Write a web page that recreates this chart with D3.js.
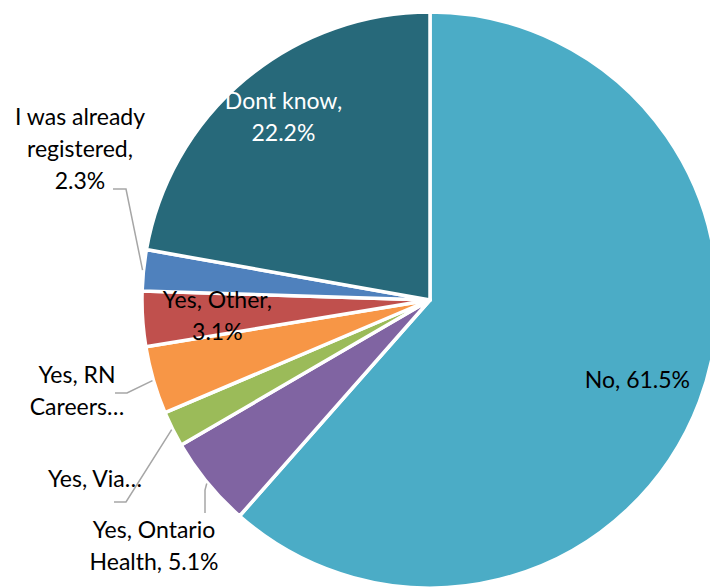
<!DOCTYPE html>
<html>
<head>
<meta charset="utf-8">
<script src="https://cdn.jsdelivr.net/npm/d3@7/dist/d3.min.js"></script>
<style>
  html, body { margin: 0; padding: 0; background: #fff; }
  svg { display: block; }
  text { font-family: Lato, "Open Sans", sans-serif; font-size: 23px; }
</style>
</head>
<body>
<svg id="chart" width="710" height="588"></svg>
<script>
// Survey answers, clockwise from 12 o'clock
const categories = ["No", "Yes, Ontario Health", "Yes, Via…", "Yes, RN Careers…",
                    "Yes, Other", "I was already registered", "Dont know"];
const values = [61.5, 5.1, 2.0, 3.8, 3.1, 2.3, 22.2];
const colors = ["#4BACC6", "#8064A2", "#9BBB59", "#F79646", "#C0504D", "#4F81BD", "#27697A"];

const W = 710, H = 588;
const cx = 430, cy = 300, R = 288;

const svg = d3.select("#chart");
const g = svg.append("g").attr("transform", `translate(${cx},${cy})`);

const pie = d3.pie().sort(null).value(d => d.value).startAngle(0).endAngle(2 * Math.PI);
const data = categories.map((c, i) => ({ name: c, value: values[i], color: colors[i] }));
const arcs = pie(data);
const arc = d3.arc().innerRadius(0).outerRadius(R);

g.selectAll("path.slice")
  .data(arcs)
  .join("path")
  .attr("class", "slice")
  .attr("d", arc)
  .attr("fill", d => d.data.color)
  .attr("stroke", "#fff")
  .attr("stroke-width", 3.5)
  .attr("stroke-linejoin", "round");

const fmt = v => d3.format(".1f")(v) + "%";
const mid = d => (d.startAngle + d.endAngle) / 2;
const polar = (a, r) => [r * Math.sin(a), -r * Math.cos(a)];
const rad = deg => deg * Math.PI / 180;

// Label layout: inside labels sit near the slice bisector; outside labels get a leader line
const labelLayout = [
  { lines: d => [`${d.data.name}, ${fmt(d.data.value)}`], inside: 0.77, fill: "#000" },
  { lines: d => ["Yes, Ontario", `Health, ${fmt(d.data.value)}`], text: [-276, 238],
    leader: [[-225, 190], [-225, 213]] },
  { lines: () => ["Yes, Via…"], text: [-335, 187],
    leader: [[-304, 202], [-316, 202]] },
  { lines: () => ["Yes, RN", "Careers…"], text: [-353, 83],
    leader: [[-303, 93], [-315, 93]] },
  { lines: d => ["Yes, Other,", fmt(d.data.value)], inside: 0.74, fill: "#000" },
  { lines: d => ["I was already", "registered,", fmt(d.data.value)], text: [-350, -175],
    leader: [[-304, -111], [-317, -111]] },
  { lines: d => ["Dont know,", fmt(d.data.value)], inside: 0.82, shift: 1.6, fill: "#fff" }
];

const lineH = 32;

arcs.forEach((d, i) => {
  const L = labelLayout[i];
  const lines = L.lines(d);
  let x, y0;
  if (L.inside) {
    const [px, py] = polar(mid(d) + rad(L.shift || 0), R * L.inside);
    x = px;
    y0 = py - (lines.length - 1) * lineH / 2 + 10;
  } else {
    x = L.text[0];
    y0 = L.text[1];
    const start = polar(mid(d), R + 1);
    const pts = [start, ...L.leader];
    g.append("polyline")
      .attr("points", pts.map(p => p.join(",")).join(" "))
      .attr("fill", "none")
      .attr("stroke", "#A6A6A6")
      .attr("stroke-width", 1.5);
  }
  const t = g.append("text")
    .attr("text-anchor", "middle")
    .attr("fill", L.fill || "#000");
  lines.forEach((s, k) => {
    t.append("tspan").attr("x", x).attr("y", y0 + k * lineH).text(s);
  });
});
</script>
</body>
</html>
